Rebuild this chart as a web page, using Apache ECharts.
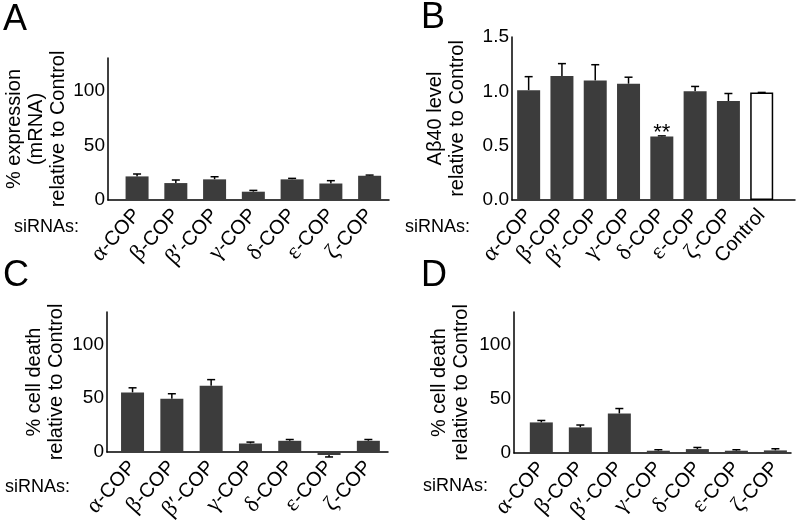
<!DOCTYPE html>
<html>
<head>
<meta charset="utf-8">
<script src="https://cdn.jsdelivr.net/npm/echarts@6/dist/echarts.min.js"></script>
<style>
html,body{margin:0;padding:0;background:#fff;}
#chart{width:796px;height:520px;}
</style>
</head>
<body>
<div id="chart"></div>
<script>
// ---- data ----
const greekA = ['α', 'β', 'β′', 'γ', 'δ', 'ε', 'ζ'];
const greekB = ['α', 'β', 'β′', 'γ', 'δ', 'ε', 'ζ', ''];
const catsBLast = 'Control';

const valuesA = [21.6, 15.5, 18.9, 7.6, 18.9, 15.1, 22.2];
const errorsA = [2.2, 2.8, 2.4, 1.2, 0.9, 2.6, 0.6];

const valuesB = [1.01, 1.14, 1.10, 1.07, 0.585, 1.0, 0.91, 0.99];
const errorsB = [0.125, 0.115, 0.145, 0.06, 0.005, 0.045, 0.07, 0];

const valuesC = [55.3, 49.5, 61.5, 7.9, 10.4, -2.8, 10.4];
const errorsC = [4.3, 4.6, 5.7, 1.3, 1.2, 1.8, 1.2];

const valuesD = [28.2, 23.6, 36.4, 2.1, 3.6, 2.1, 2.4];
const errorsD = [1.8, 2.2, 4.6, 0.9, 1.5, 0.9, 1.5];

const ticksPct = [0, 50, 100];
const ticksB = [0.0, 0.5, 1.0, 1.5];

// ---- helpers ----
const BAR = '#3c3c3c';
const FONT = '"Liberation Sans", Arial, Helvetica, sans-serif';
const SERIF = '"Liberation Serif", "Times New Roman", serif';

function catLabel(greek, idx, last) {
  if (last && idx === greek.length - 1) return last;
  const g = greek[idx];
  return '{g|' + g + '}-COP';
}

function makeX(gi, n, min, max, greek, last) {
  const cv = [];
  for (let i = 0; i < n; i++) cv.push(i);
  return {
    type: 'value', gridIndex: gi, min: min, max: max,
    splitLine: {show: false},
    axisLine: {show: true, onZero: false, lineStyle: {color: '#000', width: 1.5}},
    axisTick: {show: false},
    axisLabel: {
      customValues: cv, rotate: 48, margin: 12,
      fontSize: 20, fontFamily: FONT, color: '#000',
      formatter: function (v) { return catLabel(greek, Math.round(v), last); },
      rich: {g: {fontFamily: SERIF, fontSize: 23, color: '#000'}}
    }
  };
}

function makeY(gi, min, max, interval, name, gap, fmt) {
  return {
    type: 'value', gridIndex: gi, min: min, max: max, interval: interval,
    splitLine: {show: false},
    axisLine: {show: true, onZero: false, lineStyle: {color: '#000', width: 1.5}},
    axisTick: {show: false},
    axisLabel: {fontSize: 19, fontFamily: FONT, color: '#000', margin: 3,
      showMaxLabel: fmt ? true : false,
      formatter: fmt || function (v) { return ticksPct.indexOf(v) >= 0 ? String(v) : ''; }},
    name: name, nameLocation: 'middle', nameRotate: 90, nameGap: gap,
    nameTextStyle: {fontSize: 20, fontFamily: FONT, color: '#000', lineHeight: 22}
  };
}

function barSeries(gi, values, special) {
  return {
    type: 'bar', xAxisIndex: gi, yAxisIndex: gi, barWidth: 23, clip: false,
    itemStyle: {color: BAR},
    data: values.map(function (v, i) {
      const d = {value: [i, v]};
      if (special && special[i]) Object.assign(d, special[i]);
      return d;
    }),
    animation: false
  };
}

function errSeries(gi, values, errors) {
  return {
    type: 'custom', xAxisIndex: gi, yAxisIndex: gi, clip: false, z: 1,
    renderItem: function (params, api) {
      const x = api.value(0), v = api.value(1), e = api.value(2);
      const p0 = api.coord([x, v]);
      const p1 = api.coord([x, e]);
      const st = {stroke: '#000', lineWidth: 1.5};
      return {type: 'group', children: [
        {type: 'line', shape: {x1: p0[0], y1: p0[1], x2: p1[0], y2: p1[1]}, style: st},
        {type: 'line', shape: {x1: p1[0] - 4, y1: p1[1], x2: p1[0] + 4, y2: p1[1]}, style: st}
      ]};
    },
    data: values.map(function (v, i) {
      return [i, v, v < 0 ? v - errors[i] : v + errors[i]];
    }),
    animation: false
  };
}

const chart = echarts.init(document.getElementById('chart'), null, {renderer: 'canvas'});

const specialB = {};
specialB[4] = {label: {show: true, formatter: '**', position: 'top', distance: 0, offset: [0, 8], fontSize: 22, fontFamily: FONT, color: '#000'}};
specialB[7] = {itemStyle: {color: '#fff', borderColor: '#000', borderWidth: 1.5}};

const option = {
  backgroundColor: '#fff',
  animation: false,
  grid: [
    {left: 108, top: 58, width: 281, height: 142, outerBoundsMode: 'none', containLabel: false},
    {left: 512, top: 37, width: 283, height: 163, outerBoundsMode: 'none', containLabel: false},
    {left: 107, top: 312, width: 281, height: 140, outerBoundsMode: 'none', containLabel: false},
    {left: 514, top: 312, width: 277, height: 141, outerBoundsMode: 'none', containLabel: false}
  ],
  xAxis: [
    makeX(0, 7, -0.75, 6.5, greekA),
    makeX(1, 8, -0.5, 8.0, greekB, catsBLast),
    makeX(2, 7, -0.65, 6.5, greekA),
    makeX(3, 7, -0.7, 6.4, greekA)
  ],
  yAxis: [
    makeY(0, 0, 130, 50, '% expression\n(mRNA)\nrelative to Control', 36),
    makeY(1, 0, 1.5, 0.5, 'Aβ40 level\nrelative to Control', 44, function (v) { return v.toFixed(1); }),
    makeY(2, 0, 130, 50, '% cell death\nrelative to Control', 40),
    makeY(3, 0, 130, 50, '% cell death\nrelative to Control', 42)
  ],
  series: [
    barSeries(0, valuesA), errSeries(0, valuesA, errorsA),
    barSeries(1, valuesB, specialB), errSeries(1, valuesB, errorsB),
    barSeries(2, valuesC), errSeries(2, valuesC, errorsC),
    barSeries(3, valuesD), errSeries(3, valuesD, errorsD)
  ],
  graphic: [
    {type: 'text', left: 3, top: 2, style: {text: 'A', font: '36px ' + FONT, fill: '#000'}},
    {type: 'text', left: 421, top: 0, style: {text: 'B', font: '36px ' + FONT, fill: '#000'}},
    {type: 'text', left: 3, top: 258, style: {text: 'C', font: '36px ' + FONT, fill: '#000'}},
    {type: 'text', left: 421, top: 258, style: {text: 'D', font: '36px ' + FONT, fill: '#000'}},
    {type: 'text', left: 14, top: 218, style: {text: 'siRNAs:', font: '18px ' + FONT, fill: '#000'}},
    {type: 'text', left: 405, top: 218, style: {text: 'siRNAs:', font: '18px ' + FONT, fill: '#000'}},
    {type: 'text', left: 5, top: 478, style: {text: 'siRNAs:', font: '18px ' + FONT, fill: '#000'}},
    {type: 'text', left: 423, top: 477, style: {text: 'siRNAs:', font: '18px ' + FONT, fill: '#000'}}
  ]
};
chart.setOption(option);
</script>
</body>
</html>
